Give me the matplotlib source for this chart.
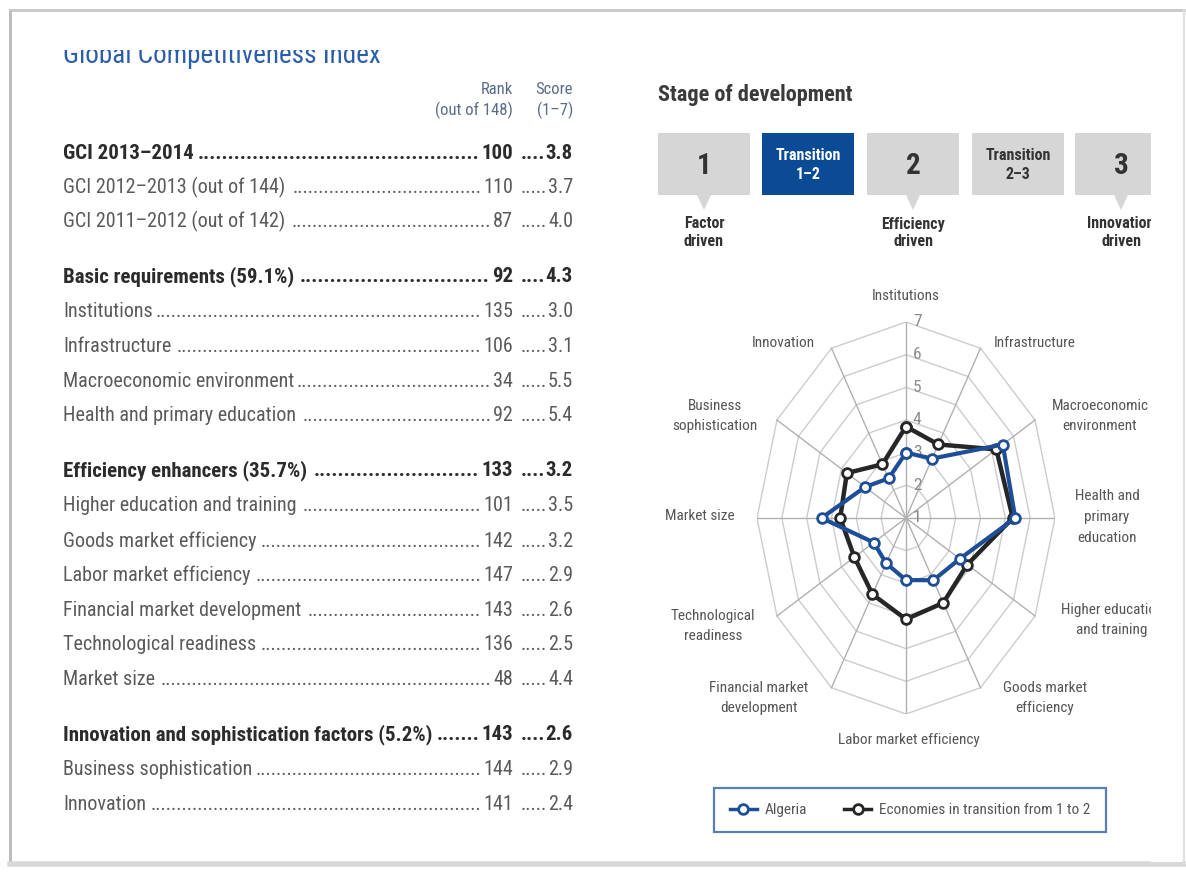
import matplotlib
matplotlib.use("Agg")
import matplotlib.pyplot as plt
import numpy as np
from matplotlib.patches import Rectangle, Polygon
from matplotlib.lines import Line2D

plt.rcParams['font.family'] = ['Roboto Condensed', 'DejaVu Sans']

# ---- table data ----
row_labels = ["GCI 2013–2014", "GCI 2012–2013 (out of 144)", "GCI 2011–2012 (out of 142)",
              "Basic requirements (59.1%)", "Institutions", "Infrastructure",
              "Macroeconomic environment", "Health and primary education",
              "Efficiency enhancers (35.7%)", "Higher education and training",
              "Goods market efficiency", "Labor market efficiency",
              "Financial market development", "Technological readiness", "Market size",
              "Innovation and sophistication factors (5.2%)", "Business sophistication",
              "Innovation"]
row_ranks = [100, 110, 87, 92, 135, 106, 34, 92, 133, 101, 142, 147, 143, 136, 48, 143, 144, 141]
row_scores = [3.8, 3.7, 4.0, 4.3, 3.0, 3.1, 5.5, 5.4, 3.2, 3.5, 3.2, 2.9, 2.6, 2.5, 4.4, 2.6, 2.9, 2.4]
bold_rows = [0, 3, 8, 15]

# ---- radar data ----
pillars = ["Institutions", "Infrastructure", "Macroeconomic\nenvironment", "Health and\nprimary\neducation",
           "Higher education\nand training", "Goods market\nefficiency", "Labor market efficiency",
           "Financial market\ndevelopment", "Technological\nreadiness", "Market size",
           "Business\nsophistication", "Innovation"]
algeria = [3.0, 3.1, 5.5, 5.4, 3.5, 3.2, 2.9, 2.6, 2.5, 4.4, 2.9, 2.4]
transition = [3.8, 3.6, 5.2, 5.3, 3.85, 4.0, 4.1, 3.7, 3.4, 3.65, 3.75, 2.9]

stages = ["1", "Transition\n1–2", "2", "Transition\n2–3", "3"]
stage_notes = ["Factor\ndriven", None, "Efficiency\ndriven", None, "Innovation\ndriven"]
current_stage = 1

# layout (pixel positions)
row_y = [152, 186, 220, 275, 310, 345, 380, 414, 469, 504, 540, 574, 609, 643, 678, 733, 768, 803]
label_pos = [(906, 296), (1035, 343), (1100, 416), (1107, 517), (1112, 620), (1045, 698),
             (909, 740), (759, 698), (713, 626), (700, 516), (715, 416), (783, 343)]

W, H = 1186, 873
fig = plt.figure(figsize=(W / 100, H / 100), dpi=100)
bg = fig.add_axes([0, 0, 1, 1])
bg.set_xlim(0, W)
bg.set_ylim(H, 0)
bg.axis('off')

# page frame
bg.plot([10, 10], [10, 864], color='#b8b8b8', lw=2)
bg.plot([10, W], [10, 10], color='#c8c8c8', lw=2)
bg.plot([10, W], [864, 864], color='#d8d8d8', lw=4)
bg.plot([1184, 1184], [10, 864], color='#e0e0e0', lw=1.5)

# title, partly cut off at the top
bg.text(63, 63, "Global Competitiveness Index", fontsize=19.5, color='#2a5ea8', va='baseline')
bg.add_patch(Rectangle((12, 12), 600, 38, facecolor='white', edgecolor='none', zorder=5))

hdr = '#5b6b8c'
bg.text(513, 90, "Rank", ha='right', va='center', fontsize=12, color=hdr)
bg.text(513, 110, "(out of 148)", ha='right', va='center', fontsize=12, color=hdr)
bg.text(573, 90, "Score", ha='right', va='center', fontsize=12, color=hdr)
bg.text(573, 110, "(1–7)", ha='right', va='center', fontsize=12, color=hdr)

fig.canvas.draw()
renderer = fig.canvas.get_renderer()


def width_of(t):
    return t.get_window_extent(renderer=renderer).width


def leader(x0, x1, y, size, color, weight):
    probe = bg.text(0, 0, '.' * 40, fontsize=size, fontweight=weight)
    dw = width_of(probe) / 40
    probe.remove()
    n = int((x1 - x0) / dw)
    if n > 0:
        bg.text(x1, y, '.' * n, ha='right', va='baseline', fontsize=size,
                fontweight=weight, color=color)


for i, (lab, rk, sc, y) in enumerate(zip(row_labels, row_ranks, row_scores, row_y)):
    b = i in bold_rows
    size = 15 if b else 14.5
    wt = 'bold' if b else 'normal'
    col = '#2b2b2b' if b else '#5a5a5a'
    yb = y + 7
    t1 = bg.text(63, yb, lab, fontsize=size, fontweight=wt, color=col, va='baseline')
    t2 = bg.text(513, yb, str(rk), ha='right', fontsize=size, fontweight=wt, color=col, va='baseline')
    t3 = bg.text(573, yb, f"{sc:.1f}", ha='right', fontsize=size, fontweight=wt, color=col, va='baseline')
    l_end = 63 + width_of(t1) + 2
    r_start = 513 - width_of(t2) - 2
    s_start = 573 - width_of(t3) - 1
    leader(l_end, r_start, yb, size, col, wt)
    leader(516, s_start, yb, size, col, wt)

# stage of development
bg.text(658, 95, "Stage of development", fontsize=16, fontweight='bold', color='#3a3a3a', va='center')
box_x = [658, 762, 867, 972, 1075]
for i, (x, s) in enumerate(zip(box_x, stages)):
    on = i == current_stage
    fc = '#0b4a94' if on else '#d6d6d6'
    bg.add_patch(Rectangle((x, 133), 92, 62, facecolor=fc, edgecolor='none'))
    cx = x + 46
    if '\n' in s:
        bg.text(cx, 165, s, ha='center', va='center', fontsize=11.5, fontweight='bold',
                color='white' if on else '#333333', linespacing=1.3)
    else:
        bg.text(cx, 166, s, ha='center', va='center', fontsize=21, fontweight='bold', color='#333333')
    note = stage_notes[i]
    if note:
        bg.add_patch(Polygon([(cx - 7, 195), (cx + 7, 195), (cx, 210)], closed=True,
                             facecolor='#d6d6d6', edgecolor='none'))
        bg.text(cx, 233, note, ha='center', va='center', fontsize=11.5, fontweight='bold',
                color='#333333', linespacing=1.25)

# radar labels
for lab, (x, y) in zip(pillars, label_pos):
    bg.text(x, y, lab, ha='center', va='center', fontsize=11, color='#555555', linespacing=1.6)

# clip right side
bg.add_patch(Rectangle((1151, 12), 31, 850, facecolor='white', edgecolor='none', zorder=10))

# radar chart (stretched like the reference)
cx, cy, rx, ry = 906, 518, 149, 196
rad = fig.add_axes([(cx - rx) / W, 1 - (cy + ry) / H, 2 * rx / W, 2 * ry / H])
rad.set_xlim(-6, 6)
rad.set_ylim(-6, 6)
rad.axis('off')

n = len(pillars)
theta = np.arange(n) * 2 * np.pi / n
tc = np.append(theta, theta[0])
for k in range(1, 7):
    rad.plot(k * np.sin(tc), k * np.cos(tc), color='#cccccc', lw=1, zorder=1)
for t in theta:
    rad.plot([0, 6 * np.sin(t)], [0, 6 * np.cos(t)], color='#b0b0b0', lw=1, zorder=1)
for k in range(0, 7):
    rad.text(0.45, k, str(k + 1), ha='center', va='center', fontsize=12.5, color='#8a8a8a', zorder=2)


def series(vals, color, lw, z):
    r = np.array(vals + vals[:1]) - 1
    return rad.plot(r * np.sin(tc), r * np.cos(tc), color=color, lw=lw, marker='o', ms=7,
                    mfc='white', mec=color, mew=2, zorder=z, clip_on=False)[0]


l_tr = series(transition, '#262626', 3.2, 3)
l_al = series(algeria, '#1f4e99', 3, 4)

h1 = Line2D([], [], color='#1f4e99', lw=2.5, marker='o', ms=7, mfc='white', mec='#1f4e99', mew=2)
h2 = Line2D([], [], color='#262626', lw=2.5, marker='o', ms=7, mfc='white', mec='#262626', mew=2)
leg = rad.legend([h1, h2], ["Algeria", "Economies in transition from 1 to 2"], ncol=2,
                 loc='center', bbox_to_anchor=(910 / W, 1 - 810 / H), bbox_transform=fig.transFigure,
                 frameon=True, fancybox=False, edgecolor='#2f5fa8', fontsize=11,
                 handlelength=1.8, columnspacing=2.4, borderpad=1.0, handletextpad=0.5,
                 labelcolor='#555555')
leg.get_frame().set_linewidth(1.6)

fig.savefig("out.png", dpi=100)
